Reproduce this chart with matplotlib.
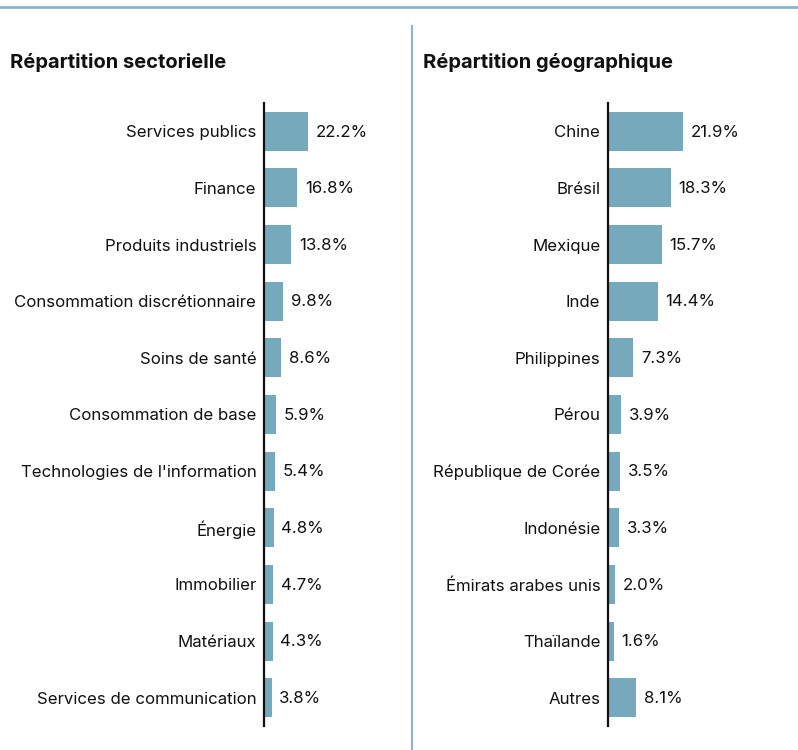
import matplotlib.pyplot as plt
from matplotlib.lines import Line2D

# Data
sectors = ["Services publics", "Finance", "Produits industriels",
           "Consommation discrétionnaire", "Soins de santé",
           "Consommation de base", "Technologies de l'information",
           "Énergie", "Immobilier", "Matériaux", "Services de communication"]
sector_values = [22.2, 16.8, 13.8, 9.8, 8.6, 5.9, 5.4, 4.8, 4.7, 4.3, 3.8]

countries = ["Chine", "Brésil", "Mexique", "Inde", "Philippines", "Pérou",
             "République de Corée", "Indonésie", "Émirats arabes unis",
             "Thaïlande", "Autres"]
country_values = [21.9, 18.3, 15.7, 14.4, 7.3, 3.9, 3.5, 3.3, 2.0, 1.6, 8.1]

bar_color = "#77a9bd"
line_color = "#8ab6c9"

plt.rcParams['font.family'] = ['Inter', 'DejaVu Sans']

W, H = 798, 750
fig = plt.figure(figsize=(W / 100, H / 100), dpi=100)


def draw_panel(left_px, width_px, px_per_pct, names, values, title, title_x):
    top, bottom = 103, 726
    ax = fig.add_axes([left_px / W, 1 - bottom / H, width_px / W, (bottom - top) / H])
    ypos = list(range(len(names)))
    ax.barh(ypos, values, height=0.69, color=bar_color)
    ax.set_ylim(len(names) - 0.5, -0.5)
    ax.set_xlim(0, width_px / px_per_pct)
    ax.set_yticks(ypos)
    ax.set_yticklabels(names, fontsize=12.1, color="#111111")
    ax.tick_params(axis="y", length=0, pad=5.5)
    ax.set_xticks([])
    for side in ["top", "right", "bottom"]:
        ax.spines[side].set_visible(False)
    ax.spines["left"].set_linewidth(1.6)
    ax.spines["left"].set_color("#111111")
    ax.set_zorder(2)
    for y, v in zip(ypos, values):
        ax.annotate(f"{v:.1f}%", (v, y), xytext=(5.5, -0.5), textcoords="offset points",
                    va="center", ha="left", fontsize=12.1, color="#111111")
    fig.text(title_x / W, 1 - 63 / H, title, fontsize=14.5, fontweight="bold",
             va="center", ha="left", color="#111111")
    return ax


draw_panel(264, 140, 1.98, sectors, sector_values, "Répartition sectorielle", 10)
draw_panel(608, 185, 3.44, countries, country_values, "Répartition géographique", 423)

# top rule and divider
fig.add_artist(Line2D([0, 1], [1 - 6.5 / H, 1 - 6.5 / H], color=line_color, lw=2))
fig.add_artist(Line2D([412 / W, 412 / W], [0, 1 - 26 / H], color=line_color, lw=1.5))

fig.savefig("out.png", dpi=100, facecolor="white")
